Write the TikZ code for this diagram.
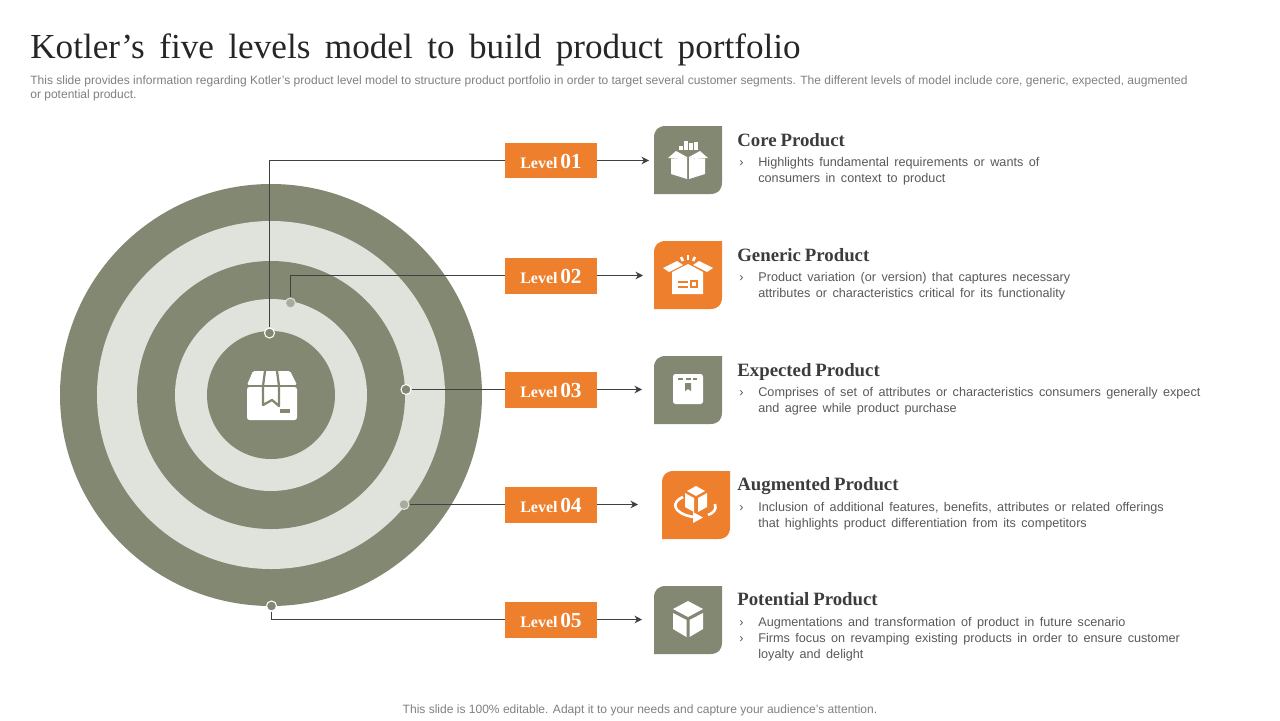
\documentclass[tikz,border=0pt]{standalone}
\usepackage{xcolor}
\usepackage{fontspec}
\usetikzlibrary{arrows.meta}
\setmainfont{Liberation Serif}
\newfontfamily\bodyfont{Liberation Sans}
\definecolor{slideink}{HTML}{262626}
\definecolor{slidegrey}{HTML}{7F7F7F}
\definecolor{slidetext}{HTML}{595959}
\definecolor{slideolive}{HTML}{838872}
\definecolor{slidepale}{HTML}{E0E2DC}
\definecolor{slidedot}{HTML}{A9AC9D}
\definecolor{slideorange}{HTML}{EE7F2C}
\definecolor{slideline}{HTML}{404040}
\newcommand{\tilebg}[1]{\fill[#1] (-22,-34) -- (34,-34) -- (34,22)
  .. controls (34,30) and (30,34) .. (22,34) -- (-34,34) -- (-34,-22)
  .. controls (-34,-30) and (-30,-34) .. (-22,-34) -- cycle;}
\begin{document}
\begin{tikzpicture}[x=0.02cm, y=-0.02cm, >={Stealth[length=4.3pt,width=4.3pt]},
                    lvl/.style={fill=slideorange, text=white, minimum width=1.84cm, minimum height=0.72cm,
                                inner sep=0pt, text height=9.4pt, text depth=0pt,
                                font=\fontsize{9.1}{10}\selectfont\bfseries},
                    head/.style={anchor=base west, inner sep=0pt, text=slideink!90,
                                 font=\fontsize{10.7}{12}\selectfont\bfseries,
                                 execute at begin node={\spaceskip=2.2pt\relax}},
                    desc/.style={anchor=north west, inner sep=0pt, align=left, text=slidetext,
                                 font=\bodyfont\fontsize{7.2}{9.07}\selectfont,
                                 execute at begin node={\spaceskip=3.1pt\relax}},
                    bull/.style={anchor=north west, inner sep=0pt, text=slidetext,
                                 font=\bodyfont\fontsize{7.2}{9.07}\selectfont},
                    dotdark/.style={circle, fill=slideolive, draw=white, line width=0.6pt,
                                    minimum size=0.2cm, inner sep=0pt},
                    dotpale/.style={circle, fill=slidedot, draw=slidepale, line width=0.6pt,
                                    minimum size=0.2cm, inner sep=0pt},
                    link/.style={slideline, line width=0.6pt}]
  \useasboundingbox (0,0) rectangle (1280,720);

  %% title, note and footer
  \node[anchor=base west, inner sep=0pt, text=slideink, font=\fontsize{20}{24}\selectfont,
        execute at begin node={\spaceskip=8.25pt\relax}] (title) at (30,58)
    {Kotler’s five levels model to build product portfolio};
  \node[anchor=north west, inner sep=0pt, align=left, text=slidegrey, font=\bodyfont\fontsize{6.84}{8}\selectfont] (note) at (30,75)
    {This slide provides information regarding Kotler’s product level model to structure product portfolio in order to target several customer segments. The different levels of model include core, generic, expected, augmented\\or potential product.};
  \node[inner sep=0pt, text=slidegrey, font=\bodyfont\fontsize{6.85}{8}\selectfont] (foot) at (640,710)
    {This slide is 100\% editable. Adapt it to your needs and capture your audience’s attention.};

  %% target rings
  \fill[slideolive] (271,395) circle (211);
  \fill[slidepale] (271,395) circle (174);
  \fill[slideolive] (271,395) circle (134);
  \fill[slidepale] (271,395) circle (96);
  \fill[slideolive] (271,395) circle (64);

  %% box in the middle of the target
  \fill[white, rounded corners=0.05cm] (247,387) -- (297,387) -- (297,420) -- (247,420) -- cycle;
  \fill[white, rounded corners=0.03cm] (253,371) -- (290,371) -- (297,385) -- (247,385) -- cycle;
  \draw[slideolive, line width=1.3pt, fill=white, line join=round] (265,371) -- (263,386) -- (263,405) -- (272,400) -- (279,406) -- (279,386) -- (277,371);
  \draw[slideolive, line width=1pt] (247,386) -- (297,386);
  \fill[slideolive] (280,409) rectangle (290,413);

  %% level boxes and the points they read from
  \node[lvl] (lvlone) at (551,160.5) {Level\,{\fontsize{12.2}{12}\selectfont 01}};
  \node[lvl] (lvltwo) at (551,275.5) {Level\,{\fontsize{12.2}{12}\selectfont 02}};
  \node[lvl] (lvlthree) at (551,389.5) {Level\,{\fontsize{12.2}{12}\selectfont 03}};
  \node[lvl] (lvlfour) at (551,504.5) {Level\,{\fontsize{12.2}{12}\selectfont 04}};
  \node[lvl] (lvlfive) at (551,619.5) {Level\,{\fontsize{12.2}{12}\selectfont 05}};
  \node[dotdark] (dotone) at (269.5,333) {};
  \node[dotpale] (dottwo) at (290.5,303) {};
  \node[dotdark] (dotthree) at (406,389.5) {};
  \node[dotpale] (dotfour) at (404,504.5) {};
  \node[dotdark] (dotfive) at (271.5,606) {};
  \coordinate (tipone) at (649,160.5);
  \coordinate (tiptwo) at (643,275.5);
  \coordinate (tipthree) at (642,389.5);
  \coordinate (tipfour) at (638,504.5);
  \coordinate (tipfive) at (642,619.5);

  %% connectors
  \draw[link] (dotone) |- (lvlone);
  \draw[link] (dottwo) |- (lvltwo);
  \draw[link] (dotthree) -- (lvlthree);
  \draw[link] (dotfour) -- (lvlfour);
  \draw[link] (dotfive) |- (lvlfive);
  \draw[link, ->] (lvlone) -- (tipone);
  \draw[link, ->] (lvltwo) -- (tiptwo);
  \draw[link, ->] (lvlthree) -- (tipthree);
  \draw[link, ->] (lvlfour) -- (tipfour);
  \draw[link, ->] (lvlfive) -- (tipfive);

  %% tile 1: open box with bars
  \begin{scope}[shift={(688,160)}]
    \tilebg{slideolive}
    \fill[white] (-9,-14) rectangle (-5,-10);
    \fill[white] (-4,-19) rectangle (0,-10);
    \fill[white] (1,-17) rectangle (4.5,-10);
    \fill[white] (6,-18) rectangle (9.5,-10);
    \fill[white] (-20,-2) -- (-12,-9) -- (-1,-3) -- (-8,-1) -- cycle;
    \fill[white] (20,-2) -- (12,-9) -- (1,-3) -- (8,-1) -- cycle;
    \fill[white] (-17,-1.5) -- (-8,-1) -- (-1,-3) -- (-1,19) -- (-17,14) -- cycle;
    \fill[white] (17,-1.5) -- (8,-1) -- (1,-3) -- (1,19) -- (17,14) -- cycle;
  \end{scope}

  %% tile 2: box with rays
  \begin{scope}[shift={(688,275)}]
    \tilebg{slideorange}
    \fill[white] (-16,-3) -- (0,-11) -- (15,-3) -- (15,19) -- (-16,19) -- cycle;
    \fill[white] (-25,-7) -- (-11,-14) -- (-5,-10) -- (-19,-3) -- cycle;
    \fill[white] (25,-7) -- (11,-14) -- (5,-10) -- (19,-3) -- cycle;
    \draw[white, line width=1.5pt] (-7,-18) -- (-5,-14);
    \draw[white, line width=1.5pt] (0,-20) -- (0,-15);
    \draw[white, line width=1.5pt] (7,-18) -- (5,-14);
    \fill[slideorange] (-10,6) rectangle (0,8);
    \fill[slideorange] (-10,11) rectangle (0,13);
    \draw[slideorange, line width=1pt] (3,6) rectangle (9,12);
  \end{scope}

  %% tile 3: closed box
  \begin{scope}[shift={(688,390)}]
    \tilebg{slideolive}
    \fill[white, rounded corners=0.05cm] (-15,-16) rectangle (15,14);
    \fill[slideolive] (-10,-12.5) rectangle (-5,-10);
    \fill[slideolive] (-2,-12.5) rectangle (3,-10);
    \fill[slideolive] (5,-12.5) rectangle (9,-10);
    \fill[slideolive] (-3,-7) -- (3,-7) -- (3,1) -- (0,-1) -- (-3,1) -- cycle;
  \end{scope}

  %% tile 4: cube with turning arrow
  \begin{scope}[shift={(696,505)}]
    \tilebg{slideorange}
    \fill[white] (0,-19) -- (9,-14) -- (0,-9) -- (-9,-14) -- cycle;
    \fill[white] (-11,-12) -- (-2,-7) -- (-2,7) -- (-11,2) -- cycle;
    \fill[white] (11,-12) -- (2,-7) -- (2,7) -- (11,2) -- cycle;
    \draw[white, line width=1.5pt] (-13,-8) .. controls (-25,-3) and (-24,8) .. (-3,12);
    \draw[white, line width=1.5pt] (19,-1) .. controls (21,5) and (17,8) .. (12,10);
    \fill[white] (-3,7) -- (7,12.5) -- (-3,18) -- cycle;
  \end{scope}

  %% tile 5: cube
  \begin{scope}[shift={(688,620)}]
    \tilebg{slideolive}
    \fill[white] (0,-19) -- (15,-11) -- (0,-3) -- (-15,-11) -- cycle;
    \fill[white] (-15,-7) -- (-1.5,0) -- (-1.5,17) -- (-15,9) -- cycle;
    \fill[white] (15,-7) -- (1.5,0) -- (1.5,17) -- (15,9) -- cycle;
  \end{scope}

  %% descriptions
  \node[head] (headone) at (737,146) {Core Product};
  \node[bull] (bullone) at (739,160) {›};
  \node[desc] (descone) at (758,157) {Highlights fundamental requirements or wants of\\consumers in context to product};

  \node[head] (headtwo) at (737,261) {Generic Product};
  \node[bull] (bulltwo) at (739,275) {›};
  \node[desc] (desctwo) at (758,272) {Product variation (or version) that captures necessary\\attributes or characteristics critical for its functionality};

  \node[head] (headthree) at (737,376) {Expected Product};
  \node[bull] (bullthree) at (739,390) {›};
  \node[desc] (descthree) at (758,387) {Comprises of set of attributes or characteristics consumers generally expect\\and agree while product purchase};

  \node[head] (headfour) at (737,490) {Augmented Product};
  \node[bull] (bullfour) at (739,505) {›};
  \node[desc] (descfour) at (758,502) {Inclusion of additional features, benefits, attributes or related offerings\\that highlights product differentiation from its competitors};

  \node[head] (headfive) at (737,605) {Potential Product};
  \node[bull] (bullfive) at (739,620) {›};
  \node[desc] (descfive) at (758,617) {Augmentations and transformation of product in future scenario};
  \node[bull] (bullsix) at (739,636) {›};
  \node[desc] (descsix) at (758,633) {Firms focus on revamping existing products in order to ensure customer\\loyalty and delight};
\end{tikzpicture}
\end{document}
